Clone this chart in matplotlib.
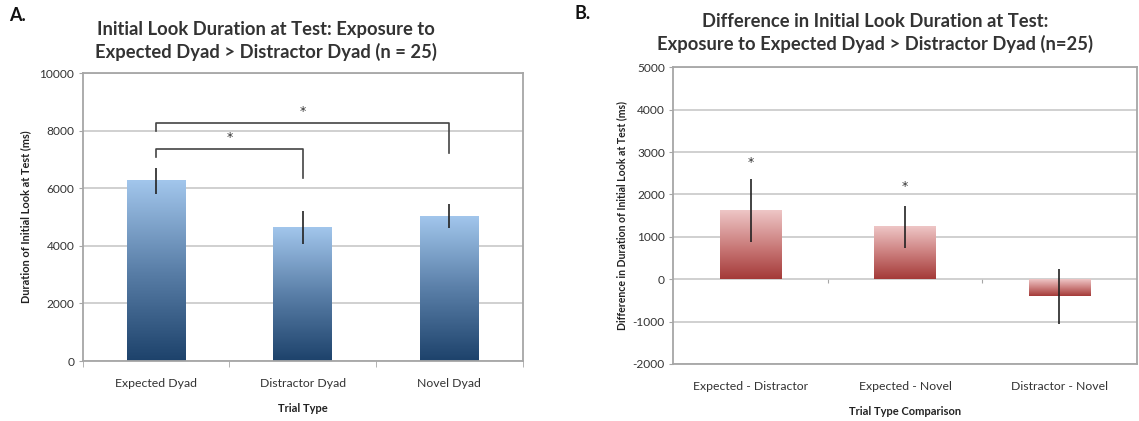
import numpy as np
import matplotlib.pyplot as plt
from matplotlib.colors import LinearSegmentedColormap

plt.rcParams['font.family'] = ['Lato', 'DejaVu Sans']
plt.rcParams['axes.unicode_minus'] = False

# A: initial look duration per trial type
trial_types = ['Expected Dyad', 'Distractor Dyad', 'Novel Dyad']
look_ms = [6265, 4635, 5035]
look_err = [450, 570, 410]
# significance brackets: (from, to, bracket height, left drop end, right drop end)
brackets = [(0, 1, 7370, 7080, 6345), (0, 2, 8280, 8000, 7220)]

# B: differences between trial types
comparisons = ['Expected - Distractor', 'Expected - Novel', 'Distractor - Novel']
diff_ms = [1625, 1230, -400]
diff_err = [745, 500, 650]
diff_star_y = [2760, 2190, None]

grid_col = '#c4c4c4'
spine_col = '#a6a6a6'
blues = LinearSegmentedColormap.from_list('blues', ['#1d426b', '#5a7fa8', '#a2c6ec'])
reds = LinearSegmentedColormap.from_list('reds', ['#a43a38', '#cc7f7e', '#eec6c6'])


def gradient_bars(ax, values, cmap, width=0.4):
    grad = np.linspace(0, 1, 256).reshape(-1, 1)
    for i, v in enumerate(values):
        lo, hi = min(0, v), max(0, v)
        ax.imshow(grad, cmap=cmap, origin='lower', aspect='auto', zorder=2,
                  extent=[i - width / 2, i + width / 2, lo, hi], interpolation='bilinear')


def star(ax, x, y):
    ax.text(x, y, '*', ha='center', va='center', fontsize=9, color='#333333',
            family='DejaVu Sans')


def style_axes(ax, ticks, ylim):
    ax.set_xlim(-0.5, 2.5)
    ax.set_ylim(*ylim)
    ax.set_yticks(ticks)
    ax.yaxis.grid(True, color=grid_col, linewidth=1.1, zorder=0)
    ax.set_axisbelow(True)
    for s in ax.spines.values():
        s.set_color(spine_col)
        s.set_linewidth(1.3)
    ax.tick_params(axis='y', length=3, color=spine_col, labelsize=8.6, labelcolor='#333333', pad=3)
    ax.tick_params(axis='x', which='major', length=0, labelsize=8.8, labelcolor='#333333', pad=12)
    ax.set_xticks([-0.5, 0.5, 1.5, 2.5], minor=True)


fig = plt.figure(figsize=(11.39, 4.21), dpi=100)

# ---- panel A ----
ax1 = fig.add_axes([0.0726, 0.1425, 0.3863, 0.6834])
gradient_bars(ax1, look_ms, blues)
ax1.errorbar(range(3), look_ms, yerr=look_err, fmt='none', ecolor='#222222',
             elinewidth=1.2, capsize=0, zorder=3)
style_axes(ax1, np.arange(0, 10001, 2000), (0, 10000))
ax1.tick_params(axis='x', which='minor', length=4, color=spine_col)
ax1.set_xticks(range(3))
ax1.set_xticklabels(trial_types)
ax1.set_xlabel('Trial Type', fontsize=8, fontweight='bold', labelpad=10, color='#222222')
ax1.set_ylabel('Duration of Initial Look at Test (ms)', fontsize=7.9, fontweight='bold',
               labelpad=6, color='#222222')
for a, b, h, l_end, r_end in brackets:
    ax1.plot([a, a, b, b], [l_end, h, h, r_end], color='#444444', linewidth=1.2, zorder=3)
    star(ax1, (a + b) / 2, h + 400)

# ---- panel B ----
ax2 = fig.add_axes([0.5911, 0.1354, 0.4069, 0.7047])
gradient_bars(ax2, diff_ms, reds)
ax2.errorbar(range(3), diff_ms, yerr=diff_err, fmt='none', ecolor='#222222',
             elinewidth=1.2, capsize=0, zorder=3)
style_axes(ax2, np.arange(-2000, 5001, 1000), (-2000, 5000))
ax2.set_xticks(range(3))
ax2.set_xticklabels(comparisons)
ax2.tick_params(axis='x', which='minor', length=0)
zero_axis = ax2.secondary_xaxis(2 / 7)
zero_axis.set_xticks([0.5, 1.5], labels=[])
zero_axis.tick_params(length=3, color=spine_col)
zero_axis.spines['bottom'].set_visible(False)
ax2.set_xlabel('Trial Type Comparison', fontsize=8, fontweight='bold', labelpad=10, color='#222222')
ax2.set_ylabel('Difference in Duration of Initial Look at Test (ms)', fontsize=7.6,
               fontweight='bold', labelpad=4, color='#222222')
for i, sy in enumerate(diff_star_y):
    if sy is not None:
        star(ax2, i, sy)

# titles and panel letters
fig.text(0.2335, 0.903, 'Initial Look Duration at Test: Exposure to\nExpected Dyad > Distractor Dyad (n = 25)',
         ha='center', va='center', fontsize=13.2, fontweight='bold', color='#333333', linespacing=1.3)
fig.text(0.768, 0.9216, 'Difference in Initial Look Duration at Test:\nExposure to Expected Dyad > Distractor Dyad (n=25)',
         ha='center', va='center', fontsize=13.2, fontweight='bold', color='#333333', linespacing=1.3)
fig.text(0.008, 0.962, 'A.', ha='left', va='center', fontsize=13, fontweight='bold', color='#111111')
fig.text(0.504, 0.967, 'B.', ha='left', va='center', fontsize=13, fontweight='bold', color='#111111')

fig.savefig('out.png', dpi=100)
